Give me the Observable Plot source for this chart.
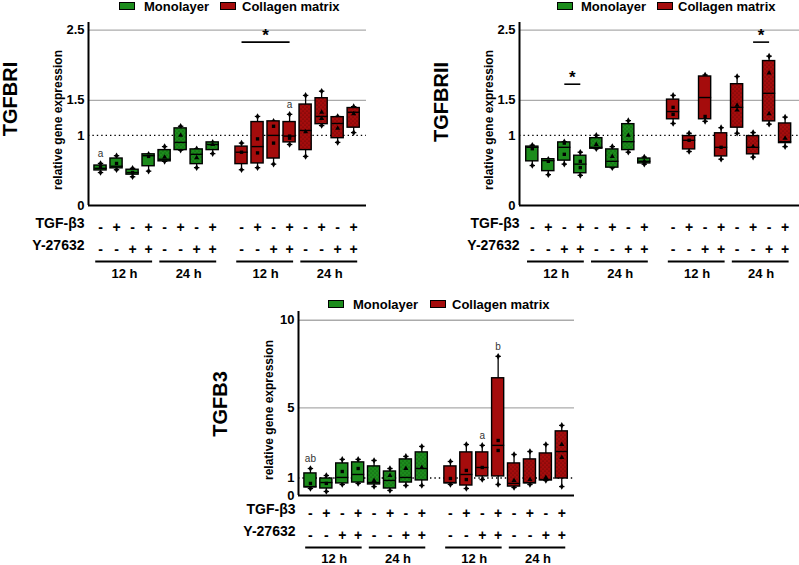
<!DOCTYPE html>
<html><head><meta charset="utf-8">
<script src="https://cdn.jsdelivr.net/npm/d3@7"></script>
<script src="https://cdn.jsdelivr.net/npm/@observablehq/plot@0.6"></script>
<style>
body{margin:0;background:#fff;overflow:hidden;font-family:Arial,"Liberation Sans",sans-serif;color:#000}
#root{position:relative;width:799px;height:565px;overflow:hidden}
.panel{position:absolute}
.rot{position:absolute;transform:translate(-50%,-50%) rotate(-90deg);white-space:nowrap;font-weight:bold;line-height:1}
.lg{position:absolute;font:bold 13px Arial,"Liberation Sans",sans-serif;line-height:13px;white-space:nowrap}
.sw{position:absolute;width:14px;height:6px;border:1.3px solid #000}
</style></head>
<body>
<svg width="0" height="0" style="position:absolute">
  <defs>
    <pattern id="stip" patternUnits="userSpaceOnUse" width="4" height="4">
      <circle cx="1" cy="1" r="0.55" fill="#000" fill-opacity="0.55"></circle>
      <circle cx="3" cy="3" r="0.55" fill="#000" fill-opacity="0.55"></circle>
    </pattern>
  </defs>
</svg>
<div id="root"></div>
<script>
// ---------- data ----------
const groups = ["Monolayer", "Collagen matrix"];
const times = ["12 h", "24 h"];
const tgfSigns = ["-", "+", "-", "+", "-", "+", "-", "+"];
const ySigns = ["-", "-", "+", "+", "-", "-", "+", "+"];
const rowLabels = ["TGF-β3", "Y-27632"];
const yLabel = "relative gene expression";
const genes = ["TGFBRI", "TGFBRII", "TGFB3"];

// TGFBRI
const r1Min = [0.47,0.51,0.41,0.49,0.63,0.79,0.54,0.74, 0.51,0.54,0.59,0.87,0.70,1.14,0.90,1.04];
const r1Q1  = [0.50,0.53,0.44,0.56,0.63,0.79,0.59,0.79, 0.59,0.60,0.67,0.90,0.79,1.16,0.96,1.11];
const r1Med = [0.53,0.56,0.47,0.71,0.66,0.90,0.73,0.87, 0.76,0.84,1.00,0.99,1.07,1.27,1.17,1.33];
const r1Q3  = [0.57,0.67,0.51,0.73,0.79,1.10,0.80,0.90, 0.84,1.19,1.20,1.19,1.44,1.53,1.26,1.39];
const r1Max = [0.60,0.71,0.53,0.73,0.84,1.13,0.81,0.90, 0.89,1.27,1.20,1.30,1.57,1.63,1.27,1.41];
const r1Pts = [[0.55],[0.60],[0.47],[0.70],[0.69],[1.00],[0.68],[0.87],[0.76],[0.95,0.75],[1.13,0.89],[0.99,0.96],[1.05],[1.33,1.24],[1.10],[1.31]];
const r1Ticks = [0, 1, 1.5, 2.5];
const r1Grid = [1.5, 2.5];
const r1Sig = [{from: 8, to: 11, value: 2.33}];
const r1Letters = [{box: 0, label: "a"}, {box: 11, label: "a"}];

// TGFBRII
const r2Min = [0.57,0.44,0.59,0.43,0.81,0.54,0.76,0.59, 1.17,0.77,1.20,0.66,1.03,0.69,1.16,0.84];
const r2Q1  = [0.63,0.49,0.64,0.46,0.81,0.54,0.79,0.60, 1.23,0.80,1.23,0.70,1.11,0.73,1.20,0.89];
const r2Med = [0.83,0.64,0.83,0.59,0.83,0.63,0.91,0.63, 1.34,0.93,1.54,0.83,1.40,0.83,1.60,0.91];
const r2Q3  = [0.84,0.66,0.90,0.71,0.96,0.80,1.16,0.67, 1.51,0.99,1.84,1.03,1.73,0.99,2.06,1.17];
const r2Max = [0.86,0.66,0.91,0.76,1.00,0.84,1.21,0.69, 1.57,1.03,1.86,1.11,1.84,1.04,2.13,1.26];
const r2Pts = [[0.81],[0.63],[0.89,0.73],[0.63,0.54],[0.87],[0.70],[1.00],[0.63],[1.40,1.30],[0.93],[1.27],[0.83],[1.43,1.36],[0.84],[1.89,1.31],[0.96]];
const r2Ticks = [0, 1, 1.5, 2.5];
const r2Grid = [1.5, 2.5];
const r2Sig = [{from: 2, to: 3, value: 1.73}, {from: 13, to: 14, value: 2.33}];
const r2Letters = [];

// TGFB3
const b3Min = [0.40,0.23,0.63,0.69,0.51,0.29,0.57,0.57, 0.63,0.40,0.91,0.63,0.46,0.63,0.86,0.51];
const b3Q1  = [0.46,0.40,0.69,0.74,0.63,0.40,0.74,0.86, 0.69,0.57,1.09,1.09,0.51,0.69,0.86,0.97];
const b3Med = [0.51,0.74,1.03,1.20,0.74,0.86,1.03,1.54, 0.74,1.20,1.60,2.86,0.69,0.74,0.91,2.51];
const b3Q3  = [1.26,0.97,1.83,1.89,1.66,1.37,2.06,2.46, 1.66,2.46,2.46,6.69,1.83,2.06,2.40,3.66];
const b3Max = [1.54,1.14,2.06,2.06,2.00,1.54,2.23,2.80, 1.94,2.91,2.86,7.94,2.34,2.51,2.91,4.00];
const b3Pts = [[0.69],[0.69],[1.37],[1.54],[0.86],[1.14],[1.54],[1.60],[0.97],[1.43,0.91],[1.60],[3.14,2.57],[0.86],[0.91],[1.03],[2.91,2.17]];
const b3Ticks = [0, 1, 5, 10];
const b3Grid = [5, 10];
const b3Sig = [];
const b3Letters = [{box: 0, label: "ab"}, {box: 10, label: "a"}, {box: 11, label: "b"}];

// ---------- drawing ----------
const GREEN = "#1c8c1c", RED = "#a50c0c";
const FONT = "Arial, 'Liberation Sans', sans-serif";
const pos = i => (i < 8 ? i : i + 0.8);
const HW = 0.38;

function buildBoxes(mn, q1, md, q3, mx) {
  return mn.map((v, i) => ({
    i, pos: pos(i), group: groups[i < 8 ? 0 : 1], time: times[Math.floor((i % 8) / 4)],
    min: v, q1: q1[i], med: md[i], q3: q3[i], max: mx[i]
  }));
}

function drawPanel(cfg) {
  const B = buildBoxes(cfg.min, cfg.q1, cfg.med, cfg.q3, cfg.max);
  const P = [];
  cfg.pts.forEach((arr, i) => arr.forEach(v => P.push({pos: pos(i), v, time: B[i].time})));
  const E = [];
  B.forEach(d => { E.push({pos: d.pos, v: d.min}); E.push({pos: d.pos, v: d.max}); });
  const G = [0, 1, 2, 3].map(g => ({from: g * 4, to: g * 4 + 3, label: times[g % 2]}));
  const o = cfg.offs;
  const xd = cfg.xdomain;
  const svg = Plot.plot({
    width: cfg.width, height: cfg.height,
    marginLeft: cfg.ml, marginRight: cfg.mr, marginTop: cfg.mt, marginBottom: cfg.mb,
    x: {domain: xd, axis: null},
    y: {domain: [0, cfg.ytop], ticks: cfg.ticks, tickSize: 0, tickPadding: 4, tickFormat: d => String(d), label: null},
    color: {domain: groups, range: [GREEN, RED]},
    style: {fontFamily: FONT, fontSize: "13px", fontWeight: "bold", color: "#000", background: "transparent", overflow: "visible"},
    marks: [
      Plot.ruleY(cfg.grid, {stroke: "#ababab", strokeWidth: 1.3}),
      Plot.ruleY([1], {stroke: "#000", strokeWidth: 1.4, strokeDasharray: "1.4,3"}),
      Plot.ruleX(B, {x: "pos", y1: "min", y2: "max", stroke: "#000", strokeWidth: 1.3}),
      Plot.link(E, {x1: d => d.pos - 0.17, x2: d => d.pos + 0.17, y1: "v", y2: "v", stroke: "#000", strokeWidth: 1.3}),
      Plot.dot(E, {x: "pos", y: "v", symbol: "diamond", r: 2, fill: "#000"}),
      Plot.rect(B, {x1: d => d.pos - HW, x2: d => d.pos + HW, y1: "q1", y2: "q3", fill: "group", stroke: "#000", strokeWidth: 1.4}),
      Plot.rect(B.filter(d => d.time === times[1]), {x1: d => d.pos - HW, x2: d => d.pos + HW, y1: "q1", y2: "q3", fill: "url(#stip)"}),
      Plot.link(B, {x1: d => d.pos - HW, x2: d => d.pos + HW, y1: "med", y2: "med", stroke: "#000", strokeWidth: 1.4}),
      Plot.dot(P, {x: "pos", y: "v", symbol: d => (d.time === times[0] ? "square" : "triangle"), r: 1.9, fill: "#000"}),
      Plot.ruleX([xd[0]], {stroke: "#000", strokeWidth: 2}),
      Plot.ruleY([0], {stroke: "#000", strokeWidth: 2}),
      // significance
      Plot.link(cfg.sig, {x1: d => pos(d.from), x2: d => pos(d.to), y1: "value", y2: "value", stroke: "#000", strokeWidth: 1.6}),
      Plot.text(cfg.sig, {x: d => (pos(d.from) + pos(d.to)) / 2, y: "value", text: () => "*", dy: -7, fontSize: 17, fontWeight: "bold"}),
      Plot.text(cfg.letters, {x: d => pos(d.box), y: d => B[d.box].max, text: "label", dy: -10, fontSize: 10, fontWeight: "normal", fill: "#333"}),
      // condition rows
      Plot.text(B, {x: "pos", y: () => 0, text: d => tgfSigns[d.i % 8], dy: o[0], fontSize: 14, fontWeight: "bold"}),
      Plot.text(B, {x: "pos", y: () => 0, text: d => ySigns[d.i % 8], dy: o[1], fontSize: 14, fontWeight: "bold"}),
      Plot.text([rowLabels[0]], {frameAnchor: "bottom-left", text: d => d, dx: cfg.rdx, dy: o[0], textAnchor: "end", fontSize: 14, fontWeight: "bold"}),
      Plot.text([rowLabels[1]], {frameAnchor: "bottom-left", text: d => d, dx: cfg.rdx, dy: o[1], textAnchor: "end", fontSize: 14, fontWeight: "bold"}),
      Plot.link(G, {x1: d => pos(d.from) - 0.33, x2: d => pos(d.to) + 0.22, y1: () => 0, y2: () => 0, dy: o[2], stroke: "#000", strokeWidth: 2.2}),
      Plot.text(G, {x: d => (pos(d.from) + pos(d.to)) / 2, y: () => 0, text: "label", dy: o[3], fontSize: 13, fontWeight: "bold"})
    ]
  });
  const div = document.createElement("div");
  div.className = "panel";
  div.style.left = cfg.left + "px";
  div.style.top = cfg.top + "px";
  div.appendChild(svg);
  root.appendChild(div);

  // titles
  const t = document.createElement("div");
  t.className = "rot"; t.textContent = cfg.gene;
  t.style.left = cfg.titleXY[0] + "px"; t.style.top = cfg.titleXY[1] + "px"; t.style.fontSize = "20px";
  root.appendChild(t);
  const yl = document.createElement("div");
  yl.className = "rot"; yl.textContent = yLabel;
  yl.style.left = cfg.ylabXY[0] + "px"; yl.style.top = cfg.ylabXY[1] + "px"; yl.style.fontSize = "12px";
  root.appendChild(yl);
  // legend
  const cols = [GREEN, RED];
  groups.forEach((g, k) => {
    const s = document.createElement("div");
    s.className = "sw"; s.style.background = cols[k];
    s.style.left = cfg.legend[k * 2] + "px"; s.style.top = (cfg.legendY - 4) + "px";
    root.appendChild(s);
    const l = document.createElement("div");
    l.className = "lg"; l.textContent = g;
    l.style.left = cfg.legend[k * 2 + 1] + "px"; l.style.top = (cfg.legendY - 6) + "px";
    root.appendChild(l);
  });
}

const root = document.getElementById("root");

drawPanel({gene: genes[0], min: r1Min, q1: r1Q1, med: r1Med, q3: r1Q3, max: r1Max, pts: r1Pts,
  ticks: r1Ticks, grid: r1Grid, sig: r1Sig, letters: r1Letters, ytop: 2.61,
  left: 0, top: 0, width: 380, height: 285, ml: 88, mr: 14, mt: 22, mb: 80,
  xdomain: [-0.75, 16.6], offs: [22, 44, 56, 68], rdx: -4,
  titleXY: [10, 99], ylabXY: [58, 120], legend: [119, 144, 220, 242], legendY: 6});

drawPanel({gene: genes[1], min: r2Min, q1: r2Q1, med: r2Med, q3: r2Q3, max: r2Max, pts: r2Pts,
  ticks: r2Ticks, grid: r2Grid, sig: r2Sig, letters: r2Letters, ytop: 2.61,
  left: 400, top: 0, width: 399, height: 285, ml: 119, mr: 0, mt: 22, mb: 80,
  xdomain: [-0.8, 16.7], offs: [22, 44, 56, 68], rdx: 0,
  titleXY: [441, 102], ylabXY: [489, 120], legend: [557, 581, 657, 678], legendY: 6});

drawPanel({gene: genes[2], min: b3Min, q1: b3Q1, med: b3Med, q3: b3Q3, max: b3Max, pts: b3Pts,
  ticks: b3Ticks, grid: b3Grid, sig: b3Sig, letters: b3Letters, ytop: 10.5,
  left: 180, top: 290, width: 400, height: 275, ml: 118, mr: 6, mt: 21, mb: 70,
  xdomain: [-0.75, 16.6], offs: [18, 40, 52, 63], rdx: -3,
  titleXY: [220, 404], ylabXY: [269, 410], legend: [328, 353, 430, 452], legendY: 304});
</script>
</body></html>
